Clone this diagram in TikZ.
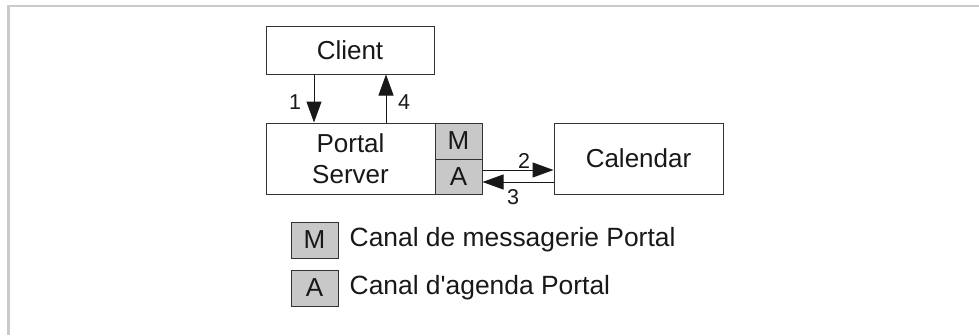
\documentclass[tikz,border=0pt]{standalone}
\usepackage{fontspec}
\setmainfont{Liberation Sans}
\usetikzlibrary{arrows.meta}
\definecolor{boxline}{HTML}{333333}
\definecolor{chan}{HTML}{C8C8C8}
\definecolor{framegray}{HTML}{CACACA}
\definecolor{ink}{HTML}{1A1718}

\begin{document}
\begin{tikzpicture}[x=1pt,y=-1pt]%
\tikzstyle{mybox} = [draw=boxline, fill=white, line width=1pt, rectangle,
    inner sep=0pt, text=ink, align=center,
    font=\fontsize{26}{31}\selectfont]
\tikzstyle{chanbox} = [mybox, fill=chan, minimum width=47pt]
\tikzstyle{arr} = [draw=ink, line width=1pt, -{Triangle[length=21pt,width=15pt]}]
\tikzstyle{num} = [text=ink, inner sep=0pt, font=\fontsize{21.5}{24}\selectfont]
\tikzstyle{legend} = [text=ink, inner sep=0pt, anchor=west,
    font=\fontsize{26.4}{30}\selectfont]

\useasboundingbox (0,0) rectangle (979,335);
\draw[framegray, line width=2.5pt] (979,6.2) -- (8.3,6.2) -- (8.3,335);

\node [mybox, minimum width=168pt, minimum height=48pt] (client) at (350,50) {Client};
\node [mybox, minimum width=169pt, minimum height=71pt] (server) at (350.5,158.5)
    {Portal\\Server};
\node [chanbox, minimum height=36pt] (mcell) at (458.5,141) {M};
\node [chanbox, minimum height=35pt] (acell) at (458.5,176.5) {A};
\node [mybox, minimum width=169pt, minimum height=71pt] (cal) at (638.5,158.5) {Calendar};

\draw[arr] ([xshift=-36pt]client.south) -- ([xshift=-36.5pt]server.north);
\draw[arr] ([xshift=35.5pt]server.north) -- ([xshift=36pt]client.south);
\draw[arr] ([yshift=6.5pt]acell.east) -- ([yshift=6.5pt]acell.east -| cal.west);
\draw[arr] ([yshift=-5.5pt]acell.east -| cal.west) -- ([yshift=-5.5pt]acell.east);

\node[num] (n1) at (295,102) {1};
\node[num] (n4) at (404,102) {4};
\node[num] (n2) at (524,161) {2};
\node[num] (n3) at (513,197) {3};

% legend
\node [chanbox, minimum height=36pt] (legm) at (314.5,240) {M};
\node [chanbox, minimum height=36pt] (lega) at (314.5,288) {A};
\node [legend] at ([xshift=11pt]legm.east) {Canal de messagerie Portal};
\node [legend] at ([xshift=11pt]lega.east) {Canal d\textquotesingle agenda Portal};
\end{tikzpicture}
\end{document}
